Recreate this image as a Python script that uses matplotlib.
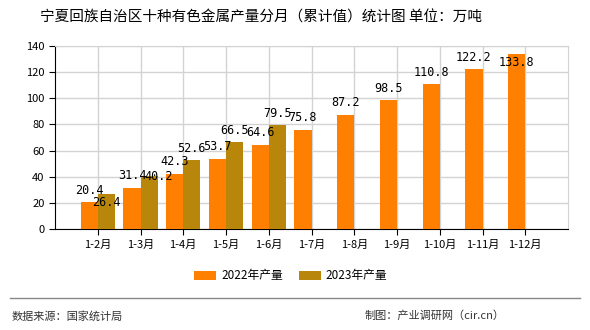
import matplotlib
matplotlib.use("Agg")
import matplotlib.pyplot as plt
import numpy as np

plt.rcParams['font.family'] = ['Noto Sans CJK SC', 'DejaVu Sans']

TITLE = "宁夏回族自治区十种有色金属产量分月（累计值）统计图 单位：万吨"
months = ["1-2月", "1-3月", "1-4月", "1-5月", "1-6月", "1-7月",
          "1-8月", "1-9月", "1-10月", "1-11月", "1-12月"]
v2022 = [20.4, 31.4, 42.3, 53.7, 64.6, 75.8, 87.2, 98.5, 110.8, 122.2, 133.8]
v2023 = [26.4, 40.2, 52.6, 66.5, 79.5]
C22 = "#ff8000"
C23 = "#b8860b"
W = 0.4
# label nudges (pixels) where the original shifted labels to avoid overlap / clipping
NUDGE22 = {10: (0, -20)}
NUDGE23 = {0: (0, -20), 1: (10, -12)}

fig = plt.figure(figsize=(5.9, 3.3), dpi=100)
ax = fig.add_axes([55 / 590, 101 / 330, 513 / 590, 183 / 330])

x = np.arange(len(months))
x23 = np.arange(len(v2023))
ax.bar(x - W / 2, v2022, W, color=C22, label="2022年产量", zorder=3)
ax.bar(x23 + W / 2, v2023, W, color=C23, label="2023年产量", zorder=3)


def put_labels(xs, vals, nudge):
    for i, (xi, v) in enumerate(zip(xs, vals)):
        dx, dy = nudge.get(i, (0, 0))
        ax.annotate("%.1f" % v, (xi, v), xytext=(dx * 0.72, 4 + dy * 0.72),
                    textcoords="offset points", ha="center", va="bottom",
                    fontsize=8.5, family="DejaVu Sans Mono", zorder=4)


put_labels(x - W / 2, v2022, NUDGE22)
put_labels(x23 + W / 2, v2023, NUDGE23)

ax.set_xlim(-1, 11)
ax.set_ylim(0, 140)
ax.set_yticks(np.arange(0, 141, 20))
ax.set_xticks(x)
ax.set_xticklabels(months)
ax.tick_params(labelsize=8, length=4, color="black", direction="out")
ax.grid(True, color="#d3d3d3", lw=1, zorder=0)
for s in ("top", "right"):
    ax.spines[s].set_color("#d3d3d3")
for s in ("left", "bottom"):
    ax.spines[s].set_color("black")

fig.text(261 / 590, 1 - 18 / 330, TITLE, ha="center", va="center", fontsize=10.5)
fig.legend(loc="center", bbox_to_anchor=(291 / 590, 1 - 276 / 330), ncol=2, frameon=False,
           fontsize=8.5, handlelength=1.86, handleheight=0.7, handletextpad=0.42,
           columnspacing=1.35)
fig.add_artist(plt.Line2D([10 / 590, 580 / 590], [1 - 298 / 330] * 2, color="#888888", lw=1))
fig.text(12 / 590, 1 - 316 / 330, "数据来源：国家统计局", ha="left", va="center",
         fontsize=8, color="#333333")
fig.text(505 / 590, 1 - 316 / 330, "制图：产业调研网（cir.cn）", ha="right", va="center",
         fontsize=8, color="#333333")

fig.savefig("out.png", dpi=100)
